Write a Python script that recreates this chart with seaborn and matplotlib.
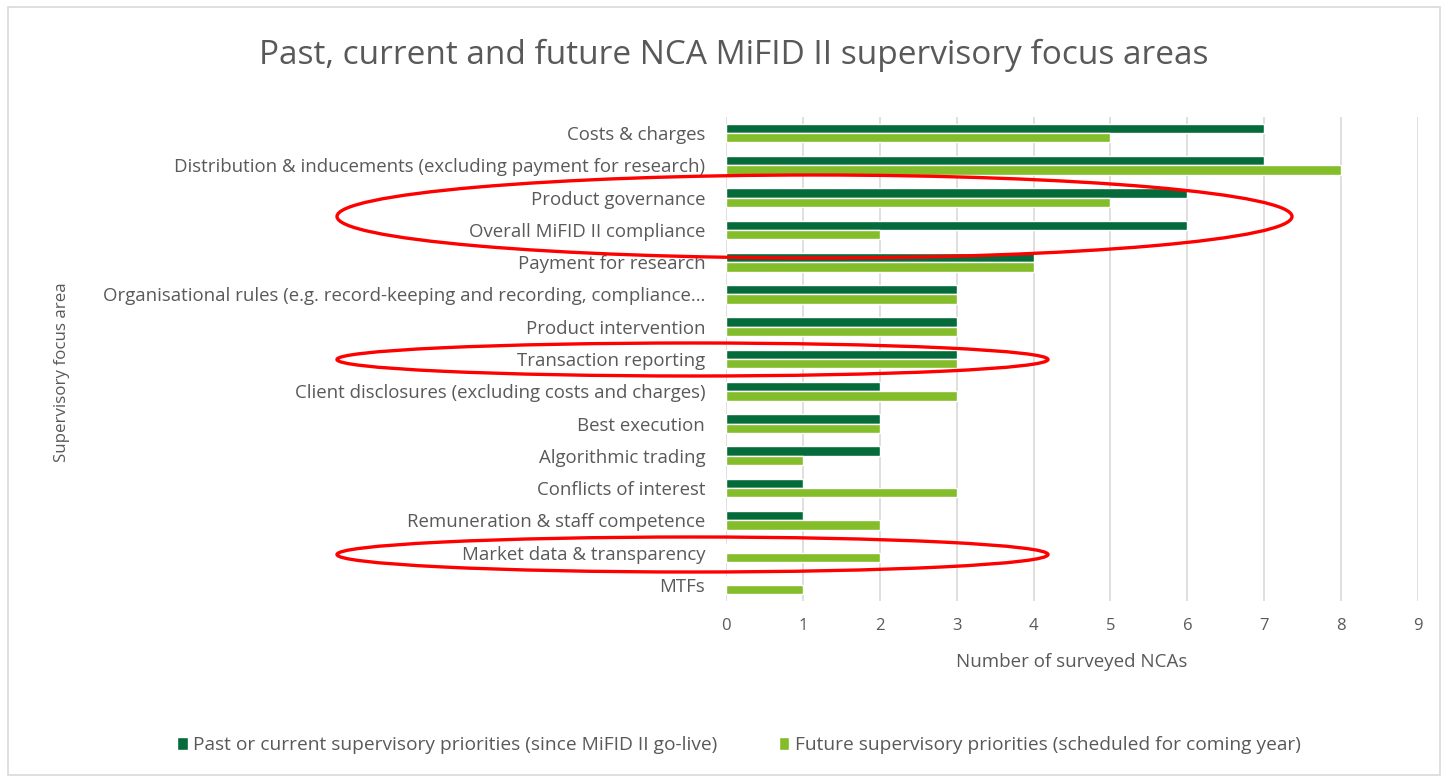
import pandas as pd
import matplotlib.pyplot as plt
import seaborn as sns
from matplotlib.patches import Ellipse, Rectangle

# ==============================================================================
# DATA
# ==============================================================================
AREAS = [
    "Costs & charges",
    "Distribution & inducements (excluding payment for research)",
    "Product governance",
    "Overall MiFID II compliance",
    "Payment for research",
    "Organisational rules (e.g. record-keeping and recording, compliance…",
    "Product intervention",
    "Transaction reporting",
    "Client disclosures (excluding costs and charges)",
    "Best execution",
    "Algorithmic trading",
    "Conflicts of interest",
    "Remuneration & staff competence",
    "Market data & transparency",
    "MTFs",
]
PAST = [7, 7, 6, 6, 4, 3, 3, 3, 2, 2, 2, 1, 1, 0, 0]
FUTURE = [5, 8, 5, 2, 4, 3, 3, 3, 3, 2, 1, 3, 2, 2, 1]

SERIES = [
    "Past or current supervisory priorities (since MiFID II go-live)",
    "Future supervisory priorities (scheduled for coming year)",
]
COLORS = ["#066B3A", "#84BD2A"]
TEXT = "#595959"

df = pd.DataFrame({
    "Area": AREAS * 2,
    "NCAs": PAST + FUTURE,
    "Series": [SERIES[0]] * len(AREAS) + [SERIES[1]] * len(AREAS),
})

# ==============================================================================
# PLOT
# ==============================================================================
sns.set_style("white")
plt.rcParams["font.family"] = ["Open Sans", "DejaVu Sans"]

W, H = 1446, 782
fig = plt.figure(figsize=(W / 100, H / 100), dpi=100)
ax = fig.add_axes([726 / W, 1 - 601 / H, (1418 - 726) / W, (601 - 117) / H])

sns.barplot(data=df, y="Area", x="NCAs", hue="Series", orient="h",
            palette=COLORS, width=0.58, saturation=1, ax=ax, legend=True)

ax.set_xlim(0, 9)
ax.set_xticks(range(10))
ax.grid(axis="x", color="#d9d9d9", linewidth=1.2)
ax.set_axisbelow(True)
for s in ax.spines.values():
    s.set_visible(False)
ax.tick_params(axis="both", length=0, colors=TEXT)
ax.tick_params(axis="y", pad=15, labelsize=13.4)
ax.tick_params(axis="x", pad=12, labelsize=12)

ax.set_xlabel("Number of surveyed NCAs", color=TEXT, fontsize=13.5, labelpad=14)
ax.set_ylabel("")
fig.text(62 / W, 1 - 372 / H, "Supervisory focus area", rotation=90,
         ha="center", va="center", color=TEXT, fontsize=12.2)

fig.text(734 / W, 1 - 55 / H,
         "Past, current and future NCA MiFID II supervisory focus areas",
         ha="center", va="center", color=TEXT, fontsize=24)

handles, labels = ax.get_legend_handles_labels()
ax.legend_.remove()
fig.legend(handles, labels, loc="center", bbox_to_anchor=(739 / W, 1 - 745 / H),
           ncol=2, frameon=False, fontsize=13.8, labelcolor=TEXT,
           handlelength=0.55, handleheight=0.7, handletextpad=0.3,
           columnspacing=3.2)

# outer chart border
fig.patches.append(Rectangle((8 / W, 1 - 775 / H), (1440 - 8) / W, (775 - 7) / H,
                             transform=fig.transFigure, fill=False,
                             edgecolor="#d9d9d9", linewidth=1.2))

# red highlight ellipses
for cx, cy, ew, eh in [(814.5, 216.5, 955, 83),
                       (692.5, 359.5, 711, 33),
                       (692.5, 554.5, 711, 35)]:
    fig.patches.append(Ellipse((cx / W, 1 - cy / H), ew / W, eh / H,
                               transform=fig.transFigure, fill=False,
                               edgecolor="red", linewidth=2.4, zorder=10))

fig.savefig("out.png", dpi=100)
